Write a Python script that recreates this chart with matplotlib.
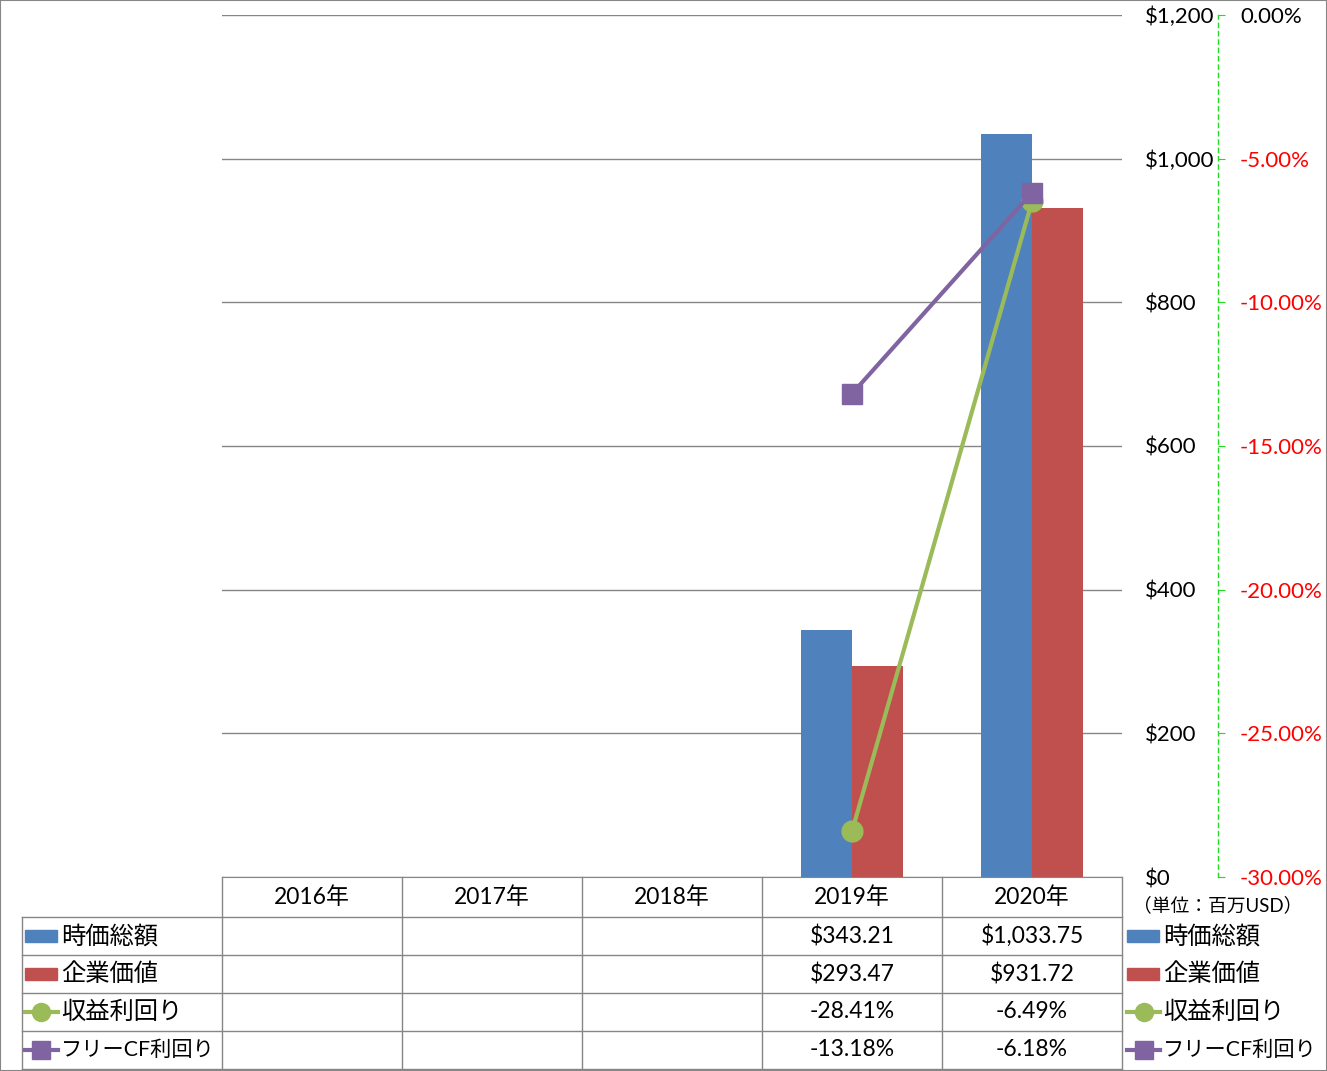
import numpy as np
import matplotlib
matplotlib.use("Agg")
import matplotlib.pyplot as plt
import matplotlib.transforms as mtransforms
from matplotlib.lines import Line2D
from matplotlib.patches import Rectangle

years = ["2016年", "2017年", "2018年", "2019年", "2020年"]
market_cap = [np.nan, np.nan, np.nan, 343.21, 1033.75]
enterprise_value = [np.nan, np.nan, np.nan, 293.47, 931.72]
earnings_yield = [np.nan, np.nan, np.nan, -28.41, -6.49]
fcf_yield = [np.nan, np.nan, np.nan, -13.18, -6.18]
series_names = ["時価総額", "企業価値", "収益利回り", "フリーCF利回り"]
usd_ticks = [0, 200, 400, 600, 800, 1000, 1200]
pct_ticks = [-30, -25, -20, -15, -10, -5, 0]
unit_label = "（単位：百万USD）"

blue = "#4F81BD"
red = "#C0504D"
green = "#9BBB59"
purple = "#8064A2"
grid_gray = "#868686"

W, H = 1327, 1071
plt.rcParams['font.family'] = ['Lato', 'Noto Sans CJK JP', 'DejaVu Sans']
fig = plt.figure(figsize=(W / 100, H / 100), dpi=100)


def fx(px):
    return px / W


def fy(py):
    return 1 - py / H


ax = fig.add_axes([fx(222), fy(877), fx(1122) - fx(222), fy(15) - fy(877)])
x = np.arange(len(years))
bw = 0.285
ax.bar(x - bw / 2, market_cap, bw, color=blue, zorder=2)
ax.bar(x + bw / 2, enterprise_value, bw, color=red, zorder=2)
ax.set_xlim(-0.5, len(years) - 0.5)
ax.set_ylim(0, 1200)
ax.yaxis.grid(True, color=grid_gray, lw=1)
ax.set_axisbelow(True)
ax.set_xticks([])
for s in ['left', 'right', 'top']:
    ax.spines[s].set_visible(False)
ax.spines['bottom'].set_color(grid_gray)

# secondary axis for yields
ax2 = ax.twinx()
ax2.set_ylim(-30, 0)
ax2.set_yticks(pct_ticks)
ax2.set_yticklabels([f"{v:.2f}%" for v in pct_ticks])
for s in ['left', 'top', 'bottom']:
    ax2.spines[s].set_visible(False)
ax2.spines['right'].set_position(('outward', 69))
ax2.spines['right'].set_color('#22DD22')
ax2.spines['right'].set_linestyle((0, (3, 3)))
ax2.spines['right'].set_linewidth(1)
ax2.tick_params(axis='y', length=5, color='#22DD22', pad=11, labelsize=16)
for lab, v in zip(ax2.get_yticklabels(), pct_ticks):
    lab.set_color('black' if v == 0 else 'red')

# primary labels on the right (after twinx)
ax.yaxis.tick_right()
ax.set_yticks(usd_ticks)
ax.set_yticklabels([f"${v:,}" for v in usd_ticks])
ax.tick_params(axis='y', length=0, pad=16.5, labelsize=16)

ax2.plot(x, earnings_yield, color=green, lw=3, marker='o', ms=15, zorder=3)
ax2.plot(x, fcf_yield, color=purple, lw=3, marker='s', ms=15, zorder=4)

# data table
line_kw = dict(color=grid_gray, lw=1)
row_y = [917, 955, 993, 1031, 1069]
for py in row_y:
    fig.add_artist(Line2D([fx(22), fx(1122)], [fy(py), fy(py)], **line_kw))
tr = mtransforms.blended_transform_factory(ax.transData, fig.transFigure)
for b in np.arange(len(years) + 1) - 0.5:
    fig.add_artist(Line2D([b, b], [fy(877), fy(1069)], transform=tr, **line_kw))
fig.add_artist(Line2D([fx(22), fx(22)], [fy(917), fy(1069)], **line_kw))

for i, yr in enumerate(years):
    fig.text(x[i], fy(897), yr, transform=tr, ha='center', va='center', fontsize=16.5)

rows = [
    [f"${v:,.2f}" if not np.isnan(v) else "" for v in market_cap],
    [f"${v:,.2f}" if not np.isnan(v) else "" for v in enterprise_value],
    [f"{v:.2f}%" if not np.isnan(v) else "" for v in earnings_yield],
    [f"{v:.2f}%" if not np.isnan(v) else "" for v in fcf_yield],
]
row_centers = [936, 974, 1012, 1050]
for r, vals in enumerate(rows):
    for i, t in enumerate(vals):
        fig.text(x[i], fy(row_centers[r]), t, transform=tr, ha='center', va='center', fontsize=16.5)


def legend_key(kind, x0, yc):
    if kind == 'bar_blue' or kind == 'bar_red':
        c = blue if kind == 'bar_blue' else red
        fig.add_artist(Rectangle((fx(x0), fy(yc + 6)), fx(x0 + 32) - fx(x0), fy(yc - 6) - fy(yc + 6),
                                 color=c, transform=fig.transFigure))
    else:
        c = green if kind == 'line_green' else purple
        m = 'o' if kind == 'line_green' else 's'
        fig.add_artist(Line2D([fx(x0), fx(x0 + 33)], [fy(yc), fy(yc)], color=c, lw=3))
        fig.add_artist(Line2D([fx(x0 + 16.5)], [fy(yc)], color=c, marker=m, ms=13, lw=0))


renderer = fig.canvas.get_renderer()
max_w = 153  # px available for a legend name
kinds = ['bar_blue', 'bar_red', 'line_green', 'line_purple']
for k, name, yc in zip(kinds, series_names, row_centers):
    legend_key(k, 25, yc)
    t1 = fig.text(fx(61), fy(yc), name, ha='left', va='center', fontsize=17.5)
    w = t1.get_window_extent(renderer).width
    fs = 17.5 if w <= max_w else 17.5 * max_w / w
    t1.set_fontsize(fs)
    legend_key(k, 1127, yc)
    fig.text(fx(1163), fy(yc), name, ha='left', va='center', fontsize=fs)

fig.text(fx(1133), fy(905), unit_label, ha='left', va='center', fontsize=13.5)

fig.add_artist(Rectangle((0, 0), 1, 1, transform=fig.transFigure, fill=False,
                         edgecolor=grid_gray, lw=1.5))

fig.savefig("out.png", dpi=100)
